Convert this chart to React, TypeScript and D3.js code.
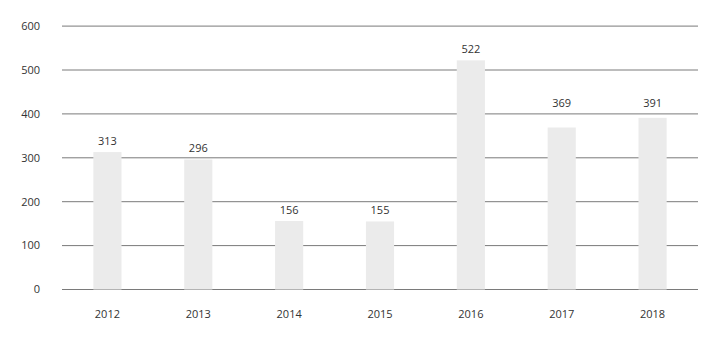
import React from "react";
import * as d3 from "d3";

const categories = ["2012", "2013", "2014", "2015", "2016", "2017", "2018"];
const values = [313, 296, 156, 155, 522, 369, 391];
const yTicks = [0, 100, 200, 300, 400, 500, 600];

const W = 720, H = 341;
const left = 62, right = 698, top = 26.1, bottom = 289.5;

export default function App() {
  const x = d3.scaleBand<string>().domain(categories).range([left, right]).paddingInner(0.69).paddingOuter(0.345);
  const y = d3.scaleLinear().domain([0, 600]).range([bottom, top]);
  const font = "'Open Sans', sans-serif";
  const labelY = (v: number) => {
    let b = y(v) - 7.5;
    for (const t of yTicks) {
      const gy = y(t);
      if (gy > b - 10 && gy < b + 5) b = gy - 7;
    }
    return b;
  };
  return (
    <svg width={W} height={H} style={{ position: "absolute", left: 0, top: 0 }} fontFamily={font}>
      {yTicks.map((t) => (
        <g key={t}>
          <line x1={left} x2={right} y1={y(t)} y2={y(t)} stroke="#7a7a7a" strokeWidth={1} />
          <text x={40} y={y(t)} dy="0.35em" textAnchor="end" fontSize={11} fill="#333">{t}</text>
        </g>
      ))}
      {categories.map((c, i) => (
        <g key={c}>
          <rect x={x(c)} y={y(values[i])} width={x.bandwidth()} height={y(0) - y(values[i])} fill="#ebebeb" />
          <text x={x(c)! + x.bandwidth() / 2} y={labelY(values[i])} textAnchor="middle" fontSize={11} fill="#333">{values[i]}</text>
          <text x={x(c)! + x.bandwidth() / 2} y={317.5} textAnchor="middle" fontSize={11} fill="#333">{c}</text>
        </g>
      ))}
    </svg>
  );
}
